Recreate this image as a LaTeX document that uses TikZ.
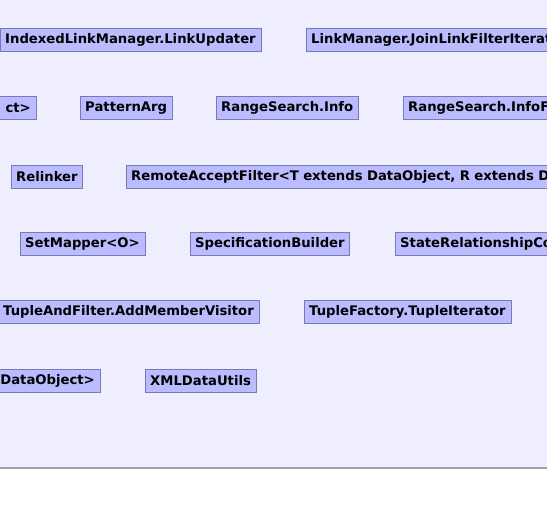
\documentclass[tikz,border=0pt]{standalone}
\usepackage{fontspec}
\setmainfont{DejaVu Sans}
\usepackage{tikz}
\usetikzlibrary{positioning}
\definecolor{graphbg}{RGB}{238,238,255}
\definecolor{boxfill}{RGB}{187,187,255}
\definecolor{boxline}{RGB}{122,122,176}
\definecolor{edgeline}{RGB}{164,160,178}
\tikzset{my class box/.style={
  draw=boxline,
  fill=boxfill,
  minimum height=23pt,
  inner xsep=5pt,
  font=\bfseries\fontsize{13.2}{15}\selectfont
  }
}
\tikzset{my cut box/.style={
  my class box,
  text width=560pt
  }
}
\begin{document}
\begin{tikzpicture}[x=1pt,y=-1pt]
    \useasboundingbox (0,0) rectangle (547,506);
    \clip (0,0) rectangle (547,506);
    \fill[graphbg] (0,0) rectangle (547,468);
    \draw[edgeline,line width=1.2pt] (0,468) -- (547,468);

    % boxes seen whole
    \foreach \x/\y/\t/\nm in {80/108/PatternArg/patArg,216/108/RangeSearch.Info/rsInfo,
        11/177/Relinker/relinker,20/244/SetMapper<O>/setMap,190/244/SpecificationBuilder/specBuild,
        304/312/TupleFactory.TupleIterator/tupIter,145/381/XMLDataUtils/xmlUtils,
        0/40/IndexedLinkManager.LinkUpdater/linkUpd}
        \node[my class box,anchor=west] (\nm) at (\x,\y) {\t};

    % boxes cut by the right edge
    \foreach \x/\y/\t/\nm in {306/40/LinkManager.JoinLinkFilterIterat/joinIter,403/108/RangeSearch.InfoF/rsInfoF,
        126/177/{RemoteAcceptFilter<T extends DataObject, R extends D}/remAccept,395/244/StateRelationshipCo/stateRel}
        \node[my cut box,anchor=west,align=left] (\nm) at (\x,\y) {\t};

    % boxes cut by the left edge
    \foreach \x/\y/\t/\nm in {36/108/ct>/ctBox,259/312/TupleAndFilter.AddMemberVisitor/addVisitor,
        100/381/DataObject>/dataObj}
        \node[my cut box,anchor=east,align=right] (\nm) at (\x,\y) {\t};

\end{tikzpicture}
\end{document}
